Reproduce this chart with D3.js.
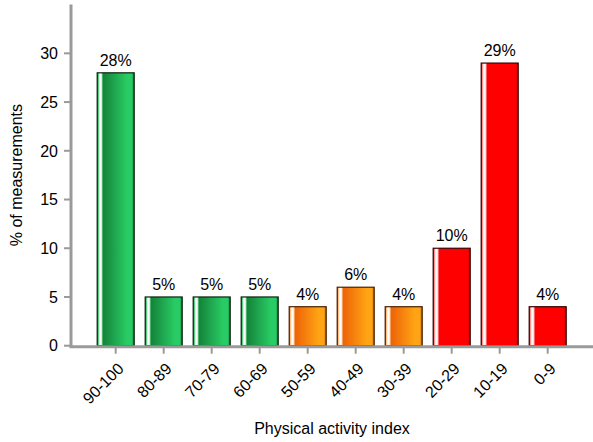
<!DOCTYPE html>
<html>
<head>
<meta charset="utf-8">
<script src="https://cdn.jsdelivr.net/npm/d3@7"></script>
<style>
  html, body { margin: 0; padding: 0; background: #fff; }
  svg text { font-family: "Liberation Sans", Arial, sans-serif; fill: #000; }
</style>
</head>
<body>
<svg id="chart" width="593" height="442"></svg>
<script>
// Physical activity index bands and share of measurements (%)
const categories = ["90-100", "80-89", "70-79", "60-69", "50-59", "40-49", "30-39", "20-29", "10-19", "0-9"];
const values = [28, 5, 5, 5, 4, 6, 4, 10, 29, 4];
const groups = ["green", "green", "green", "green", "orange", "orange", "orange", "red", "red", "red"];
const yTicks = [0, 5, 10, 15, 20, 25, 30];

const svg = d3.select("#chart");

const x0 = 71, xEnd = 593, yTop = 4.6, yBase = 345.7;
const fs = 16;

const x = d3.scaleBand()
  .domain(categories)
  .range([91.7, 571.7])
  .paddingInner(11 / 48)
  .paddingOuter(11 / 96);

const y = d3.scaleLinear().domain([0, 35]).range([yBase, yTop]);

// Bar fills: shaded cylinders with a bright highlight near the left edge
const defs = svg.append("defs");
const palettes = {
  green:  { edge: "#0c6028", light: "#5fcf84", dark: "#14843a", bright: "#29cb64", stroke: "#08230f" },
  orange: { edge: "#b05000", light: "#ffbb80", dark: "#ee6408", bright: "#ffa414", stroke: "#4a2200" },
  red:    { edge: "#b00000", light: "#ff9090", dark: "#ff0000", bright: "#ff0000", stroke: "#3a0000" }
};
Object.entries(palettes).forEach(([k, p]) => {
  const g = defs.append("linearGradient").attr("id", "grad-" + k)
    .attr("x1", "0%").attr("x2", "100%").attr("y1", "0%").attr("y2", "0%");
  [
    [0, p.edge], [0.035, p.light], [0.07, "#ffffff"], [0.11, "#ffffff"],
    [0.13, p.light], [0.17, p.dark], [0.8, p.bright], [0.94, p.bright], [1, p.edge]
  ].forEach(([o, c]) => g.append("stop").attr("offset", o).attr("stop-color", c));
});

// Bars
svg.append("g").selectAll("rect")
  .data(values)
  .join("rect")
  .attr("x", (d, i) => x(categories[i]))
  .attr("y", d => y(d))
  .attr("width", x.bandwidth())
  .attr("height", d => yBase - y(d))
  .attr("fill", (d, i) => `url(#grad-${groups[i]})`)
  .attr("stroke", (d, i) => palettes[groups[i]].stroke)
  .attr("stroke-width", 1.2);

// Value labels
svg.append("g").selectAll("text")
  .data(values)
  .join("text")
  .attr("x", (d, i) => x(categories[i]) + x.bandwidth() / 2)
  .attr("y", d => y(d) - 7)
  .attr("text-anchor", "middle")
  .attr("font-size", fs)
  .text(d => d + "%");

// Y axis
const axisColor = "#9a9a9a";
svg.append("line")
  .attr("x1", x0).attr("x2", x0).attr("y1", yTop).attr("y2", yBase + 1.5)
  .attr("stroke", axisColor).attr("stroke-width", 3);
const yt = svg.append("g");
yt.selectAll("line").data(yTicks).join("line")
  .attr("x1", x0 - 7).attr("x2", x0).attr("y1", d => y(d)).attr("y2", d => y(d))
  .attr("stroke", axisColor).attr("stroke-width", 2);
yt.selectAll("text").data(yTicks).join("text")
  .attr("x", 58).attr("y", d => y(d)).attr("dy", "0.36em")
  .attr("text-anchor", "end").attr("font-size", fs)
  .text(d => d);

// X axis
svg.append("line")
  .attr("x1", x0 - 1.5).attr("x2", xEnd).attr("y1", yBase + 1).attr("y2", yBase + 1)
  .attr("stroke", axisColor).attr("stroke-width", 3);
const xt = svg.append("g");
xt.selectAll("line").data(categories).join("line")
  .attr("x1", d => x(d) + x.bandwidth() / 2).attr("x2", d => x(d) + x.bandwidth() / 2)
  .attr("y1", yBase + 1).attr("y2", yBase + 8)
  .attr("stroke", axisColor).attr("stroke-width", 2);
xt.selectAll("text").data(categories).join("text")
  .attr("transform", d => `translate(${x(d) + x.bandwidth() / 2 + 9},${yBase + 24}) rotate(-45)`)
  .attr("text-anchor", "end").attr("font-size", fs)
  .text(d => d);

// Axis titles
svg.append("text")
  .attr("x", 332).attr("y", 434)
  .attr("text-anchor", "middle").attr("font-size", fs)
  .text("Physical activity index");
svg.append("text")
  .attr("transform", `translate(22,${(yTop + yBase) / 2}) rotate(-90)`)
  .attr("text-anchor", "middle").attr("font-size", fs)
  .text("% of measurements");
</script>
</body>
</html>
